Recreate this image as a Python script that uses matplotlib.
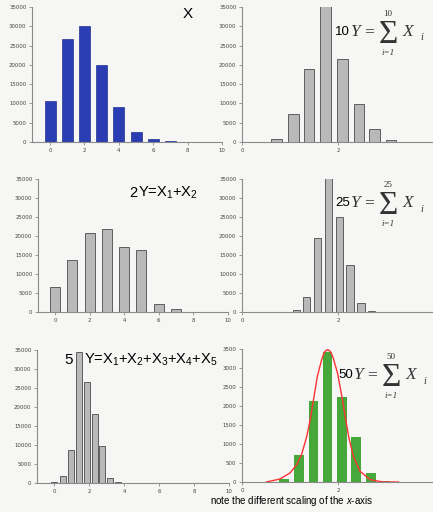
import numpy as np
import matplotlib.pyplot as plt

W, H = 433, 512
SANS = ['Liberation Sans', 'DejaVu Sans']
SERIF = ['Liberation Serif', 'DejaVu Serif']

plt.rcParams['mathtext.fontset'] = 'custom'
plt.rcParams['mathtext.rm'] = 'Liberation Sans'
plt.rcParams['mathtext.it'] = 'Liberation Sans:italic'

# X : single variable
x_pos = [0, 1, 2, 3, 4, 5, 6, 7]
x_counts = [10600, 26750, 29960, 19980, 8950, 2690, 780, 170]

# 2Y = X1 + X2
y2_pos = [0, 1, 2, 3, 4, 5, 6, 7]
y2_counts = [6680, 13720, 20670, 21810, 17150, 16440, 2200, 700]

# 5Y = X1 + ... + X5
y5_pos = [0.0, 0.48, 0.94, 1.39, 1.87, 2.31, 2.75, 3.2, 3.66]
y5_counts = [150, 1750, 8600, 34400, 26670, 18070, 9650, 1400, 260]

# 10Y = sum of 10
y10_pos = [0.72, 1.07, 1.40, 1.74, 2.09, 2.44, 2.76, 3.10]
y10_counts = [780, 7380, 18930, 36000, 21450, 9810, 3300, 520]

# 25Y = sum of 25
y25_pos = [1.13, 1.35, 1.58, 1.81, 2.03, 2.25, 2.48, 2.70]
y25_counts = [530, 3960, 19430, 36000, 25060, 12490, 2370, 350]

# 50Y = sum of 50, with normal fit
y50_pos = [0.88, 1.19, 1.49, 1.78, 2.08, 2.38, 2.69, 2.98]
y50_counts = [88, 719, 2123, 3421, 2228, 1193, 237, 35]
fit_x = [0.51, 0.79, 1.0, 1.14, 1.24, 1.35, 1.42, 1.49, 1.57, 1.66, 1.70, 1.74,
         1.785, 1.83, 1.87, 1.90, 1.99, 2.08, 2.15, 2.22, 2.32, 2.46, 2.67, 2.94, 3.26]
fit_y = [0, 79, 237, 456, 719, 1202, 1640, 2167, 2781, 3219, 3370, 3455,
         3482, 3450, 3360, 3263, 2868, 2254, 1728, 1202, 675, 281, 61, 0, 0]

left_ticks = [0, 2, 4, 6, 8, 10]
right_ticks = [0, 2, 4]
count_ticks = [0, 5000, 10000, 15000, 20000, 25000, 30000, 35000]
small_ticks = [0, 500, 1000, 1500, 2000, 2500, 3000, 3500]

fig = plt.figure(figsize=(W / 100, H / 100), dpi=100)
fig.patch.set_facecolor('#f6f6f4')


def px_axes(left, right, top, bottom):
    return fig.add_axes([left / W, 1 - bottom / H, (right - left) / W, (bottom - top) / H])


def style(ax, xlim, ylim, xticks, yticks):
    ax.set_xlim(xlim)
    ax.set_ylim(ylim)
    ax.set_xticks(xticks)
    ax.set_yticks(yticks)
    ax.set_yticklabels([str(t) for t in yticks])
    ax.patch.set_alpha(0)
    for s in ['top', 'right']:
        ax.spines[s].set_visible(False)
    for s in ['left', 'bottom']:
        ax.spines[s].set_color('#8a8a8a')
        ax.spines[s].set_linewidth(0.8)
    ax.tick_params(length=2, width=0.6, color='#8a8a8a', labelsize=3.9,
                   labelcolor='#444444', pad=2)


def ftext(x, y, s, **kw):
    return fig.text(x / W, 1 - y / H, s, **kw)


def sum_label(ax_x, ax_y, n):
    # "nY = sum_{i=1}^{n} X_i" built from pieces
    ink = '#333333'
    ftext(ax_x, ax_y, str(n), family=SANS, fontsize=9.5,
          ha='right', va='center', color='black')
    ftext(ax_x + 1, ax_y, 'Y', family=SERIF, style='italic', fontsize=12.5,
          ha='left', va='center', color=ink)
    ftext(ax_x + 14, ax_y, '=', family=SERIF, fontsize=12.5,
          ha='left', va='center', color=ink)
    ftext(ax_x + 38, ax_y + 2.5, '\u03a3', family=SERIF, fontsize=24,
          ha='center', va='center', color=ink)
    ftext(ax_x + 38, ax_y - 18, str(n), family=SERIF, fontsize=6.5,
          ha='center', va='center', color=ink)
    ftext(ax_x + 38, ax_y + 21, 'i=1', family=SERIF, style='italic',
          fontsize=6.5, ha='center', va='center', color=ink)
    ftext(ax_x + 53, ax_y, 'X', family=SERIF, style='italic', fontsize=12.5,
          ha='left', va='center', color=ink)
    ftext(ax_x + 70, ax_y + 6, 'i', family=SERIF, style='italic', fontsize=7.5,
          ha='left', va='center', color=ink)


grey = dict(color='#b9b9b9', edgecolor='#5e5e5e', linewidth=0.7)

# top left: X
ax1 = px_axes(32, 222, 7, 142)
ax1.bar(x_pos, x_counts, width=0.64, color='#2b3db3', edgecolor='#22318f', linewidth=0.5)
style(ax1, (-1.05, 10), (0, 35000), left_ticks, count_ticks)

# top right: 10
ax2 = px_axes(242, 434, 7, 142)
ax2.bar(y10_pos, y10_counts, width=0.22, **grey)
style(ax2, (0, 4), (0, 35000), right_ticks, count_ticks)

# middle left: 2
ax3 = px_axes(38, 228, 179, 312)
ax3.bar(y2_pos, y2_counts, width=0.58, **grey)
style(ax3, (-0.98, 10), (0, 35000), left_ticks, count_ticks)

# middle right: 25
ax4 = px_axes(242, 434, 179, 312)
ax4.bar(y25_pos, y25_counts, width=0.15, **grey)
style(ax4, (0, 4), (0, 35000), right_ticks, count_ticks)

# bottom left: 5
ax5 = px_axes(37, 229, 350, 483)
ax5.bar(y5_pos, y5_counts, width=0.34, **grey)
style(ax5, (-0.99, 10), (0, 35000), left_ticks, count_ticks)

# bottom right: 50 with fit
ax6 = px_axes(242, 434, 349, 482)
ax6.bar(y50_pos, y50_counts, width=0.2, color='#46a83a', edgecolor='none')
ax6.plot(fit_x, fit_y, color='#ff3333', lw=1.0)
style(ax6, (0, 4), (0, 3500), right_ticks, small_ticks)

# labels
ftext(188, 14, 'X', family=SANS, fontsize=11, ha='center', va='center')
ftext(129, 193, '2', family=SANS, fontsize=10.5, ha='left', va='center')
ftext(138, 193, 'Y=X$_1$+X$_2$', family=SANS, fontsize=10.5, ha='left', va='center')
ftext(64, 360, '5', family=SANS, fontsize=11, ha='left', va='center')
ftext(84, 360, 'Y=X$_1$+X$_2$+X$_3$+X$_4$+X$_5$', family=SANS, fontsize=10.5,
      ha='left', va='center')

sum_label(350, 32, 10)
sum_label(350, 203, 25)
sum_label(353, 375, 50)

ftext(210, 501, r'note the different scaling of the $x$-axis',
      family=SANS, fontsize=7.0, ha='left', va='center')

fig.savefig('out.png', dpi=100, facecolor=fig.get_facecolor())
